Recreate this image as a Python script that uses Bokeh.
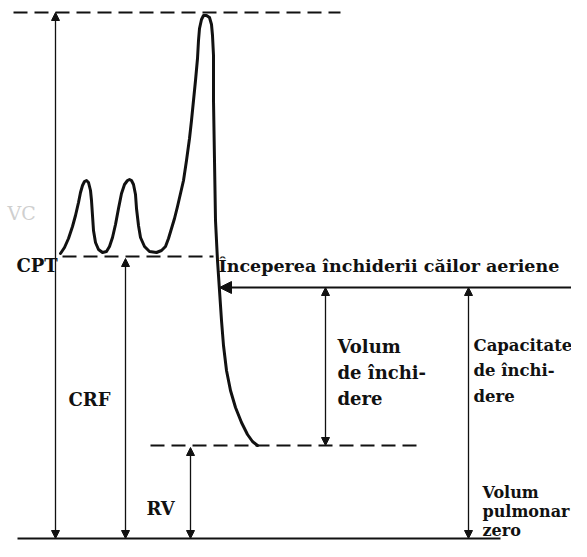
from bokeh.plotting import figure
from bokeh.models import Range1d, Arrow, NormalHead
from bokeh.core.properties import value
from bokeh.embed import file_html
from bokeh.resources import INLINE

# ---- data (time in arbitrary units, volume in arbitrary units, 0 = zero lung volume)
trace_t = [60, 64, 68, 72, 75, 78, 80, 82, 84, 86, 88, 90, 91, 92, 93, 95, 98, 102,
           106, 109, 112, 115, 118, 121, 124, 127, 129, 131, 133, 135, 136, 138, 140,
           144, 149, 156, 161, 165, 168, 171, 174, 177, 180, 183, 186, 189, 191, 193,
           195, 197, 198, 199, 201, 203, 206, 209, 211, 212, 213, 213, 214, 215, 217,
           219, 221, 223, 226, 230, 235, 241, 247, 252, 257]
trace_v = [285, 291, 300, 312, 323, 336, 346, 353, 357, 358, 356, 348, 338, 323, 308,
           296, 289, 286, 287, 292, 301, 314, 330, 345, 354, 358, 359, 358, 354, 344,
           330, 313, 301, 292, 287, 286, 288, 292, 300, 310, 320, 332, 345, 358, 378,
           400, 418, 438, 458, 480, 498, 510, 519, 523, 523, 521, 514, 503, 483, 438,
           378, 318, 278, 248, 218, 193, 168, 148, 131, 116, 104, 97, 93]

level_top = 526      # maximal inspiration level
level_cpt = 282      # level labelled CPT
level_close = 251    # onset of airway closure
level_rv = 93        # residual volume
level_zero = 0       # zero lung volume

label_main = "Începerea închiderii căilor aeriene"
label_volum = ["Volum", "de închi-", "dere"]
label_capac = ["Capacitate", "de închi-", "dere"]
label_zero = ["Volum", "pulmonar", "zero"]

# ---- figure
p = figure(width=571, height=541, output_backend="svg", toolbar_location=None,
           x_range=Range1d(0, 571), y_range=Range1d(-3, 538),
           min_border=0, outline_line_color=None, background_fill_color="white")
p.axis.visible = False
p.xgrid.visible = False
p.ygrid.visible = False

INK = "#111111"
DASH = "14 7"

# dashed reference levels
p.segment(x0=[13], y0=[level_top], x1=[340], y1=[level_top], line_color=INK, line_width=2, line_dash=DASH)
p.segment(x0=[62], y0=[level_cpt], x1=[213], y1=[level_cpt], line_color=INK, line_width=2, line_dash=DASH)
p.segment(x0=[150], y0=[level_rv], x1=[418], y1=[level_rv], line_color=INK, line_width=2, line_dash=DASH)

# zero volume baseline
p.segment(x0=[17], y0=[level_zero], x1=[500], y1=[level_zero], line_color=INK, line_width=2)

# spirometric trace
p.line(trace_t, trace_v, line_color=INK, line_width=3, line_join="round", line_cap="round")

def dbl_arrow(x, y0, y1, size=8):
    p.add_layout(Arrow(x_start=x, y_start=y0, x_end=x, y_end=y1,
                       start=NormalHead(size=size, fill_color=INK, line_color=INK, line_width=1),
                       end=NormalHead(size=size, fill_color=INK, line_color=INK, line_width=1),
                       line_color=INK, line_width=1.3))

dbl_arrow(55, level_zero, level_top)
dbl_arrow(125, level_zero, level_cpt - 2)
dbl_arrow(190, level_zero, level_rv - 2)
dbl_arrow(325, level_rv, level_close)
dbl_arrow(468, level_zero, level_close)

# horizontal arrow pointing to the onset of closure
p.add_layout(Arrow(x_start=571, y_start=level_close, x_end=219, y_end=level_close,
                   start=None,
                   end=NormalHead(size=12, fill_color=INK, line_color=INK, line_width=1),
                   line_color=INK, line_width=1.8))

FONT = value("DejaVu Serif")

def txt(xs, ys, texts, size="18px", color=INK, style="bold"):
    p.text(x=xs, y=ys, text=texts, text_font=FONT, text_font_style=style,
           text_font_size=size, text_color=color, text_align="left",
           text_baseline="alphabetic")

txt([16], [273], ["CPT"])
txt([218], [273], [label_main], size="17.5px")
txt([68], [139], ["CRF"])
txt([146], [30], ["RV"])
txt([337, 337, 337], [192, 166, 140], label_volum)
txt([473, 473, 473], [193, 168, 142], label_capac, size="16.5px")
txt([482, 482, 482], [46, 27, 8], label_zero, size="16px")
txt([7], [326], ["VC"], size="19px", color="#cfcfcf", style="normal")

open("out.html", "w").write(file_html(p, INLINE))
